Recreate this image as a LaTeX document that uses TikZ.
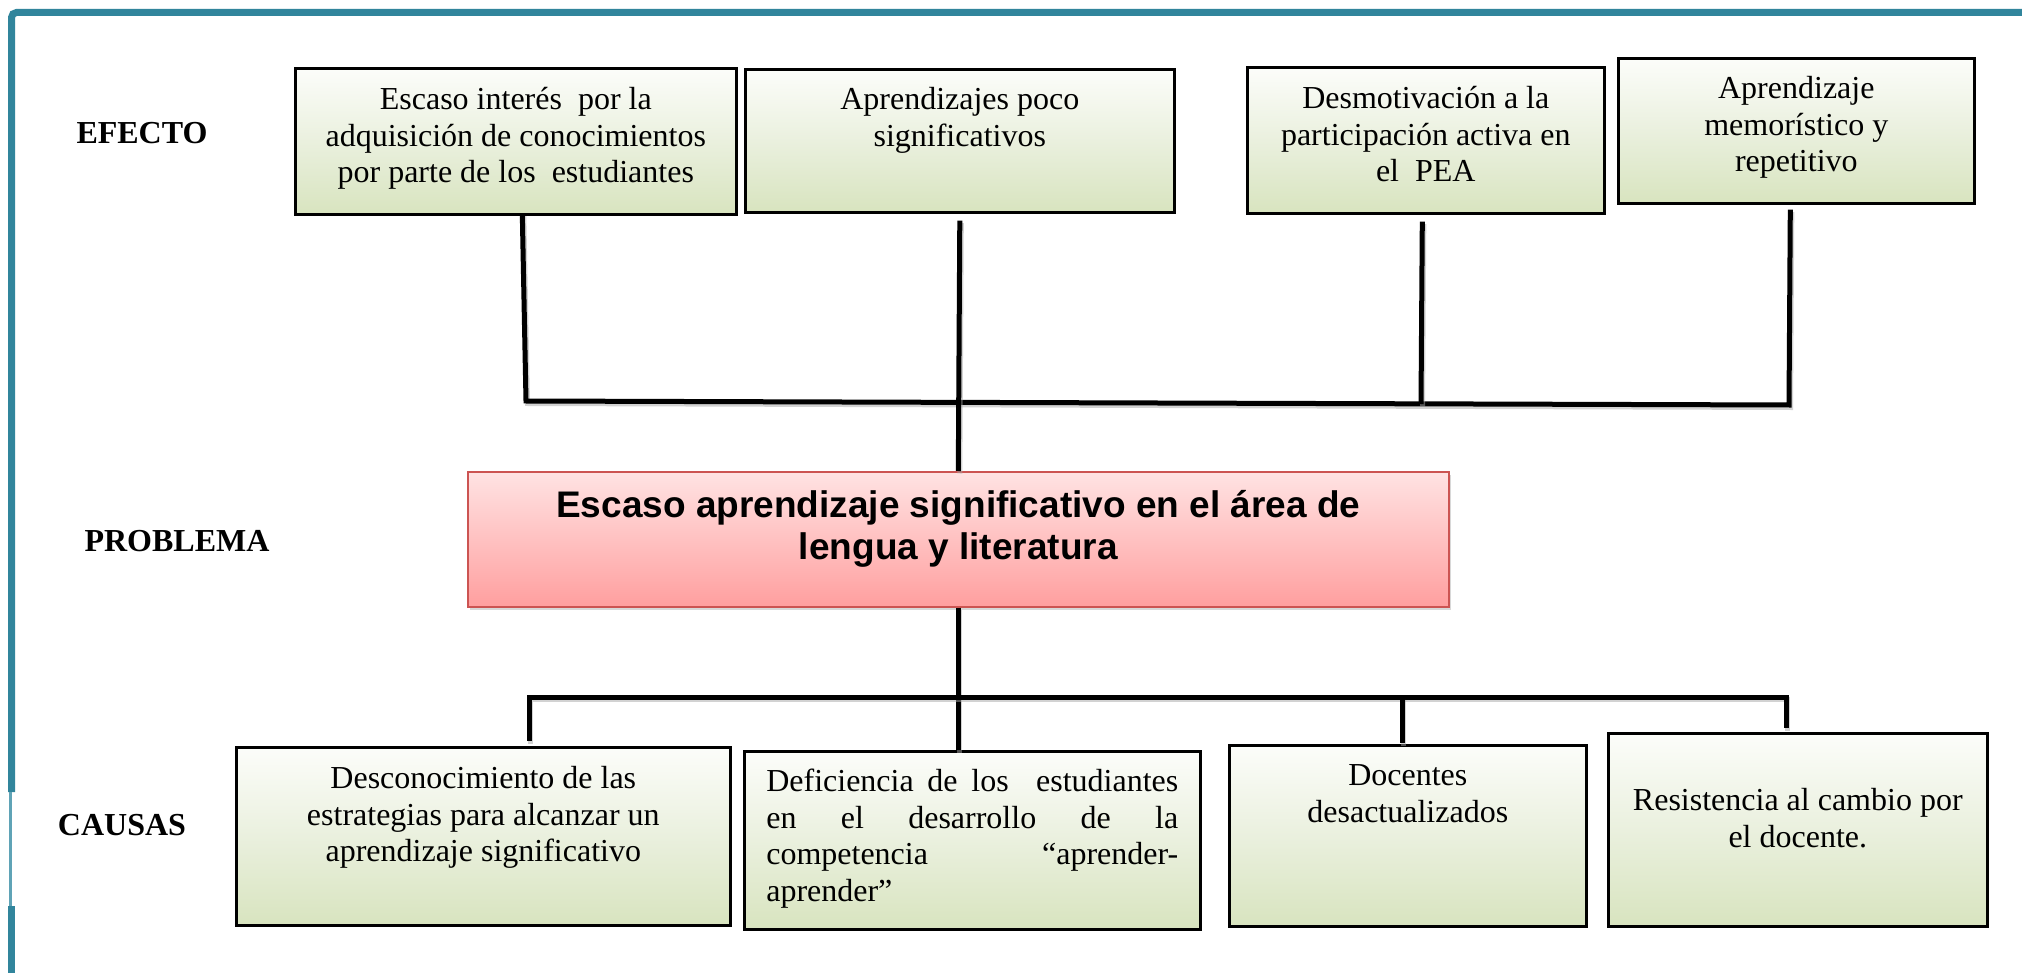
\documentclass[tikz,border=0pt]{standalone}
\usepackage{fontspec}
\setmainfont{Liberation Serif}
\newfontfamily\sansbold{Liberation Sans}
\usetikzlibrary{shadows,calc}
\definecolor{frame}{HTML}{31859C}
\definecolor{framelight}{HTML}{5FA3B6}
\definecolor{gtop}{HTML}{FCFDFA}
\definecolor{gmid}{HTML}{EAF0DE}
\definecolor{gbot}{HTML}{D8E4BF}
\definecolor{ptop}{HTML}{FFE3E3}
\definecolor{pbot}{HTML}{FF9F9F}
\definecolor{pline}{HTML}{CC5452}
\newcommand{\bxt}[4]{\parbox[c][#2pt][t]{#1pt}{\fontsize{32}{36.8}\selectfont\centering\rule{0pt}{#3pt}#4\par}}
\begin{document}
\begin{tikzpicture}[x=1pt,y=-1pt,
  gbox/.style={draw=black, line width=2.6pt, inner sep=0pt, anchor=north west,
    top color=gtop, bottom color=gbot, middle color=gmid,
    drop shadow={shadow xshift=2pt,shadow yshift=-2pt,opacity=0.22}},
  pbox/.style={draw=pline, line width=1.6pt, inner sep=0pt, anchor=north west,
    top color=ptop, bottom color=pbot,
    drop shadow={shadow xshift=2pt,shadow yshift=-3pt,opacity=0.3}},
  lbl/.style={font=\fontsize{32}{36.8}\selectfont\bfseries, anchor=base, inner sep=0pt},
  conn/.style={draw=black, line width=5pt,
    preaction={draw=black!35, line width=5pt, opacity=0.5, transform canvas={xshift=1.5pt,yshift=-2.5pt}}}]
\useasboundingbox (0,0) rectangle (2022,973);
\fill[white] (0,0) rectangle (2022,973);
% frame
\draw[frame, line width=7pt, rounded corners=5pt] (11.5,792) -- (11.5,12.5) -- (2025,12.5);
\draw[frame, line width=7pt] (11.5,906) -- (11.5,976);
\draw[framelight, line width=3pt] (10,792) -- (10,906);
% labels
\node[lbl] (lef) at (142,144) {EFECTO};
\node[lbl] (lpr) at (177,551) {PROBLEMA};
\node[lbl] (lca) at (122,835) {CAUSAS};
% effect boxes
\node[gbox] (e1) at (294,67) {\bxt{441}{146}{41}{Escaso interés\ \ por la\\ adquisición de conocimientos\\ por parte de los\ \ estudiantes}};
\node[gbox] (e2) at (744,68) {\bxt{429}{143}{40}{Aprendizajes poco\\ significativos}};
\node[gbox] (e3) at (1246,66) {\bxt{357}{146}{41}{Desmotivación a la\\ participación activa en\\ el\ \ PEA}};
\node[gbox] (e4) at (1617,57) {\bxt{356}{145}{40}{Aprendizaje\\ memorístico y\\ repetitivo}};
% problem
\node[pbox] (p) at (467,471) {\parbox[c][135pt][t]{981pt}{\sansbold\bfseries\fontsize{37}{42}\selectfont\centering\rule{0pt}{46pt}Escaso aprendizaje significativo en el área de\\ lengua y literatura\par}};
% cause boxes
\node[gbox] (c1) at (235,746) {\bxt{494}{178}{41}{Desconocimiento de las\\ estrategias para alcanzar un\\ aprendizaje significativo}};
\node[gbox] (c2) at (743,750) {\parbox[c][178pt][t]{456pt}{\fontsize{32}{36.8}\selectfont\parindent=0pt\leftskip=22pt
\makebox[412pt][s]{\rule{0pt}{40pt}Deficiencia de los\ \ estudiantes}\par
\makebox[412pt][s]{en el desarrollo de la}\par
\makebox[412pt][s]{competencia “aprender-}\par
aprender”\par}};
\node[gbox] (c3) at (1228,744) {\bxt{357}{181}{40}{Docentes\\ desactualizados}};
\node[gbox] (c4) at (1607,732) {\bxt{379}{193}{77}{Resistencia al cambio por\\ el docente.}};
% top connectors
\coordinate (t1) at (526,401);
\coordinate (t3) at (1421,404);
\coordinate (t4) at (1789,405);
\draw[conn] ([xshift=6.5pt,yshift=2pt]e1.south) -- (t1) -- (t4) -- ([xshift=-6pt,yshift=-5pt]e4.south);
\draw[conn] ([xshift=-3.5pt,yshift=-7pt]e3.south) -- (t3);
\draw[conn] ([yshift=-7pt]e2.south) -- (p.north);
% bottom connectors
\coordinate (b1) at (529,697);
\coordinate (b3) at (1402,697);
\coordinate (b4) at (1786,697);
\draw[conn] (p.south) -- (p.south |- c2.north);
\draw[conn] ($(b1 |- c1.north)+(0,-5)$) -- (b1) -- (b4) -- ($(b4 |- c4.north)+(0,-4)$);
\draw[conn] (b3) -- ($(b3 |- c3.north)+(0,-1)$);
\end{tikzpicture}
\end{document}
